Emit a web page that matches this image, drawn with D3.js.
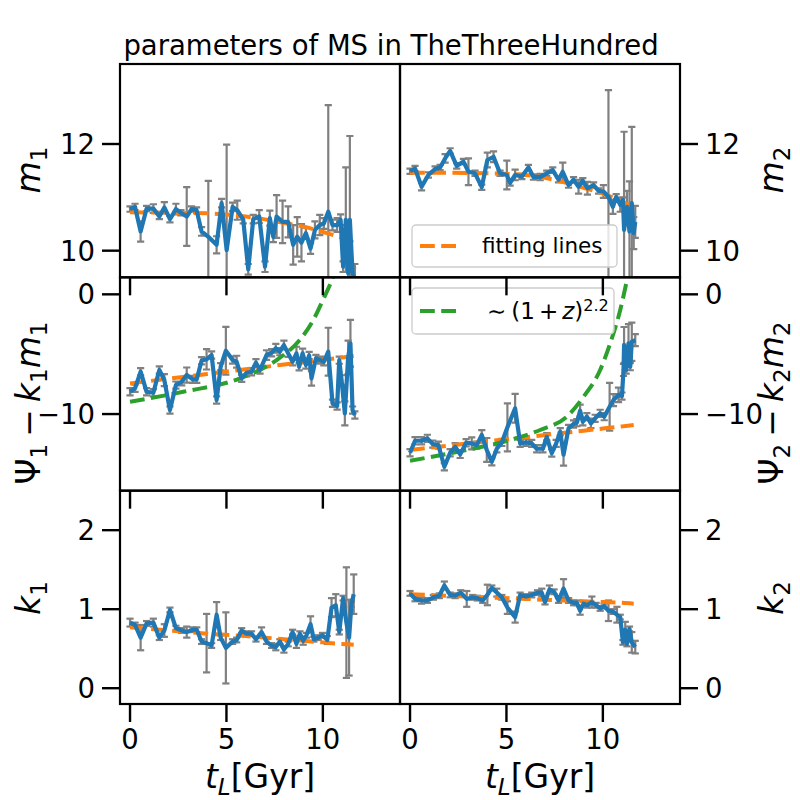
<!DOCTYPE html>
<html>
<head>
<meta charset="utf-8">
<script src="https://cdn.jsdelivr.net/npm/d3@7"></script>
<style>
  body { margin: 0; background: #fff; }
  text { font-family: "DejaVu Sans", sans-serif; fill: #000; }
</style>
</head>
<body>
<svg id="chart" width="800" height="800"></svg>
<script>
// ---- data ----
const xTicks = [0, 5, 10];

const tM1 = [0, 0.26, 0.55, 0.86, 1.21, 1.52, 1.78, 2.07, 2.38, 2.64, 2.94, 3.19, 3.45, 3.71, 4.06, 4.49, 4.75, 5.01, 5.32, 5.56, 5.87, 6.13, 6.39, 6.70, 7.0, 7.25, 7.43, 7.6, 7.91, 8.2, 8.46, 8.67, 8.89, 9.12, 9.36, 9.59, 9.84, 10.05, 10.28, 10.5, 10.74, 10.92, 11.05, 11.19, 11.31, 11.4, 11.54, 11.66];
const m1 = [10.78, 10.82, 10.36, 10.79, 10.79, 10.64, 10.81, 10.59, 10.78, 10.71, 10.64, 10.78, 10.76, 10.36, 10.26, 10.11, 10.89, 10.01, 10.82, 10.76, 10.58, 9.65, 10.59, 10.64, 9.70, 10.61, 10.26, 10.64, 10.54, 10.54, 10.11, 10.26, 10.15, 10.33, 10.04, 10.39, 10.48, 10.51, 10.73, 10.48, 10.48, 10.58, 9.70, 10.58, 9.58, 10.58, 9.58, 9.45];
const m1Err = [0.05, 0.06, 0.19, 0.05, 0.08, 0.05, 0.1, 0.06, 0.1, 0.05, 0.55, 0.05, 0.05, 0.08, 1.05, 0.16, 0.08, 1.98, 0.08, 0.18, 0.07, 0.1, 0.08, 0.12, 0.1, 0.14, 0.1, 0.4, 0.4, 0.29, 0.37, 0.37, 0.35, 0.1, 0.1, 0.16, 0.19, 0.1, 2.0, 0.1, 0.13, 0.1, 0.1, 0.98, 0.3, 1.57, 0.1, 0.3];

const tM2 = [0, 0.26, 0.6, 0.95, 1.3, 1.56, 1.82, 2.08, 2.42, 2.77, 3.03, 3.37, 3.72, 4.01, 4.33, 4.67, 5.02, 5.19, 5.45, 5.8, 6.14, 6.4, 6.75, 7.09, 7.4, 7.7, 7.92, 8.22, 8.48, 8.74, 8.96, 9.2, 9.52, 9.78, 10.03, 10.29, 10.52, 10.69, 10.9, 11.04, 11.1, 11.25, 11.38, 11.5, 11.6, 11.68];
const m2 = [11.49, 11.54, 11.2, 11.42, 11.53, 11.56, 11.73, 11.87, 11.59, 11.67, 11.48, 11.45, 11.19, 11.70, 11.76, 11.45, 11.42, 11.27, 11.42, 11.39, 11.56, 11.38, 11.38, 11.45, 11.51, 11.33, 11.48, 11.23, 11.33, 11.2, 11.31, 11.17, 11.23, 11.12, 11.11, 11.01, 10.82, 11.01, 10.86, 10.95, 10.39, 10.82, 10.36, 10.89, 10.33, 10.54];
const m2Err = [0.05, 0.05, 0.07, 0.05, 0.05, 0.05, 0.08, 0.05, 0.05, 0.05, 0.25, 0.05, 0.05, 0.14, 0.1, 0.05, 0.27, 0.05, 0.1, 0.05, 0.05, 0.05, 0.06, 0.05, 0.05, 0.05, 0.17, 0.05, 0.05, 0.13, 0.05, 0.12, 0.05, 0.05, 0.12, 2.0, 0.13, 0.05, 0.13, 0.05, 1.84, 0.3, 0.94, 1.43, 0.3, 0.3];

const tP1 = [0, 0.26, 0.55, 0.86, 1.21, 1.52, 1.78, 2.07, 2.38, 2.68, 2.94, 3.25, 3.46, 3.71, 3.97, 4.23, 4.49, 4.7, 4.97, 5.32, 5.53, 5.79, 6.04, 6.3, 6.53, 6.74, 7.08, 7.34, 7.56, 7.77, 7.98, 8.2, 8.43, 8.63, 8.77, 8.95, 9.12, 9.29, 9.41, 9.64, 9.88, 10.05, 10.28, 10.5, 10.74, 10.85, 10.97, 11.14, 11.31, 11.43, 11.54, 11.66];
const psi1 = [-8.14, -7.85, -6.46, -8.14, -8.22, -6.32, -7.16, -9.67, -7.58, -7.3, -6.74, -7.1, -7.1, -5.55, -5.43, -5.07, -8.83, -6.05, -4.71, -5.49, -5.63, -7.02, -6.55, -6.47, -5.71, -6.32, -5.07, -4.88, -4.51, -4.79, -4.24, -4.93, -5.63, -4.93, -6.05, -4.93, -5.9, -5.1, -7.02, -5.35, -5.5, -5.63, -4.79, -9.1, -9.33, -5.5, -7.16, -9.94, -5.26, -4.09, -9.67, -10.08];
const psi1Err = [0.3, 0.3, 0.3, 0.3, 0.3, 0.3, 0.5, 0.3, 0.3, 0.3, 0.63, 0.3, 0.3, 0.3, 0.85, 0.3, 0.3, 0.3, 2.0, 0.3, 0.5, 0.3, 0.3, 0.3, 0.3, 0.3, 0.4, 0.3, 0.37, 0.3, 0.37, 0.3, 0.3, 0.55, 0.3, 0.4, 0.3, 0.3, 0.6, 0.3, 0.3, 0.3, 2.0, 0.3, 0.3, 0.3, 0.4, 1.0, 1.4, 1.95, 0.3, 0.3];

const tP2 = [0, 0.26, 0.6, 0.9, 1.18, 1.47, 1.78, 2.08, 2.34, 2.6, 2.91, 3.2, 3.46, 3.72, 3.98, 4.24, 4.5, 4.76, 5.05, 5.45, 5.71, 6.02, 6.31, 6.57, 6.89, 7.09, 7.35, 7.58, 7.79, 7.96, 8.22, 8.48, 8.65, 8.82, 8.96, 9.17, 9.38, 9.6, 9.86, 10.07, 10.35, 10.55, 10.81, 10.99, 11.07, 11.1, 11.21, 11.33, 11.42, 11.5, 11.68];
const psi2 = [-13.23, -12.23, -12.23, -12.03, -12.51, -12.6, -14.4, -13.23, -12.73, -13.37, -12.4, -12.45, -12.6, -11.75, -13.0, -13.98, -12.9, -12.37, -11.11, -9.52, -12.45, -12.37, -12.45, -12.9, -12.9, -11.9, -13.26, -12.45, -11.48, -13.4, -11.2, -10.83, -10.72, -9.72, -10.64, -10.22, -10.78, -10.36, -9.94, -10.22, -9.39, -8.83, -8.4, -8.5, -6.32, -4.23, -6.32, -4.09, -6.04, -3.96, -3.82];
const psi2Err = [0.3, 0.3, 0.3, 0.3, 0.3, 0.3, 0.3, 0.3, 0.3, 0.3, 0.3, 0.5, 0.3, 0.4, 1.0, 0.3, 0.3, 0.3, 2.0, 1.2, 0.3, 0.3, 0.3, 0.3, 0.3, 0.3, 0.3, 0.3, 0.3, 0.9, 0.3, 0.3, 0.3, 0.5, 0.3, 0.3, 0.4, 0.3, 0.3, 0.3, 2.0, 0.5, 0.6, 0.3, 0.5, 1.5, 0.3, 1.6, 0.3, 1.6, 0.5];

const tK1 = [0, 0.26, 0.55, 0.86, 1.21, 1.52, 1.78, 2.07, 2.38, 2.68, 2.94, 3.25, 3.46, 3.71, 3.97, 4.23, 4.49, 4.7, 4.97, 5.32, 5.53, 5.79, 6.04, 6.3, 6.53, 6.82, 7.08, 7.34, 7.56, 7.77, 7.98, 8.2, 8.43, 8.63, 8.81, 8.98, 9.15, 9.36, 9.53, 9.76, 9.98, 10.23, 10.45, 10.67, 10.85, 11.05, 11.22, 11.36, 11.48, 11.6];
const k1 = [0.83, 0.80, 0.64, 0.82, 0.83, 0.64, 0.73, 0.99, 0.76, 0.73, 0.71, 0.74, 0.74, 0.59, 0.57, 0.54, 0.93, 0.64, 0.51, 0.59, 0.61, 0.73, 0.69, 0.69, 0.62, 0.71, 0.59, 0.54, 0.52, 0.59, 0.49, 0.56, 0.71, 0.56, 0.69, 0.6, 0.67, 0.81, 0.62, 0.64, 0.67, 0.61, 1.02, 1.05, 0.71, 1.14, 0.83, 0.64, 1.06, 1.19];
const k1Err = [0.05, 0.03, 0.16, 0.03, 0.05, 0.03, 0.08, 0.03, 0.03, 0.03, 0.07, 0.03, 0.03, 0.03, 0.37, 0.03, 0.16, 0.03, 0.45, 0.03, 0.03, 0.03, 0.03, 0.03, 0.03, 0.06, 0.03, 0.03, 0.04, 0.03, 0.04, 0.03, 0.03, 0.05, 0.03, 0.05, 0.03, 0.1, 0.03, 0.03, 0.03, 0.05, 0.12, 0.14, 0.03, 0.03, 0.7, 0.48, 0.03, 0.25];

const tK2 = [0, 0.26, 0.6, 0.9, 1.21, 1.52, 1.78, 2.08, 2.34, 2.63, 2.94, 3.25, 3.49, 3.77, 4.01, 4.24, 4.5, 4.76, 5.05, 5.45, 5.71, 6.02, 6.31, 6.61, 6.83, 7.0, 7.23, 7.47, 7.7, 7.96, 8.22, 8.48, 8.65, 8.82, 9.0, 9.2, 9.43, 9.65, 9.86, 10.07, 10.29, 10.52, 10.73, 10.9, 11.04, 11.16, 11.25, 11.38, 11.5, 11.68];
const k2 = [1.2, 1.13, 1.11, 1.11, 1.15, 1.17, 1.30, 1.18, 1.17, 1.21, 1.13, 1.15, 1.14, 1.11, 1.18, 1.27, 1.21, 1.15, 1.02, 0.90, 1.18, 1.16, 1.18, 1.21, 1.21, 1.09, 1.25, 1.22, 1.11, 1.26, 1.11, 1.08, 1.08, 0.98, 1.07, 1.05, 1.09, 1.05, 1.01, 1.04, 0.98, 0.97, 0.93, 0.90, 0.58, 0.74, 0.56, 0.75, 0.58, 0.52];
const k2Err = [0.03, 0.03, 0.04, 0.03, 0.03, 0.03, 0.05, 0.03, 0.03, 0.03, 0.1, 0.03, 0.03, 0.03, 0.13, 0.03, 0.05, 0.03, 0.08, 0.07, 0.03, 0.03, 0.03, 0.03, 0.05, 0.03, 0.05, 0.03, 0.03, 0.12, 0.03, 0.03, 0.03, 0.05, 0.03, 0.03, 0.07, 0.03, 0.03, 0.03, 0.13, 0.03, 0.1, 0.03, 0.03, 0.1, 0.03, 0.03, 0.13, 0.08];

// orange fitting lines
const fitT = [0, 2, 4, 6, 8, 9, 10, 11, 11.6];
const m1Fit = [10.72, 10.71, 10.70, 10.64, 10.52, 10.45, 10.35, 10.24, 10.15];
const m2Fit = [11.46, 11.46, 11.45, 11.42, 11.28, 11.18, 11.07, 10.92, 10.82];
const psi1Fit = [-7.44, -7.05, -6.65, -6.26, -5.86, -5.67, -5.47, -5.27, -5.15];
const psi2Fit = [-13.0, -12.64, -12.28, -11.93, -11.57, -11.39, -11.21, -11.03, -10.92];
const k1Fit = [0.77, 0.73, 0.69, 0.66, 0.62, 0.60, 0.58, 0.56, 0.55];
const k2Fit = [1.19, 1.17, 1.15, 1.13, 1.11, 1.10, 1.09, 1.08, 1.07];

// green ~(1+z)^2.2 curves
const powT1 = [0, 2.76, 5.7, 7.6, 8.8, 9.5, 10.0, 10.5, 11.0];
const psi1Pow = [-8.97, -8.14, -7.02, -5.49, -3.82, -2.15, -0.48, 1.34, 4.0];
const powT2 = [0, 2.94, 5.19, 6.75, 8.13, 9.0, 9.86, 10.38, 10.9, 11.25, 11.6];
const psi2Pow = [-13.9, -13.0, -12.17, -11.33, -10.22, -8.55, -6.32, -4.09, -1.31, 1.2, 4.0];

// ---- layout ----
const svg = d3.select('#chart');
const marginL = 120, colW = 280, marginT = 64, rowH = 640 / 3;
const tickLen = 18;
const blue = '#1f77b4', orange = '#ff7f0e', green = '#2ca02c';
const dash = '14.8,6.4';

const zip = (a, b) => a.map((d, i) => [d, b[i]]);

const panels = [
    {row: 0, col: 0, t: tM1, v: m1, e: m1Err, fit: m1Fit, dom: [9.5, 13.5], ticks: [10, 12]},
    {row: 0, col: 1, t: tM2, v: m2, e: m2Err, fit: m2Fit, dom: [9.5, 13.5], ticks: [10, 12]},
    {row: 1, col: 0, t: tP1, v: psi1, e: psi1Err, fit: psi1Fit, pow: zip(powT1, psi1Pow), dom: [-16.4, 1.42], ticks: [-10, 0]},
    {row: 1, col: 1, t: tP2, v: psi2, e: psi2Err, fit: psi2Fit, pow: zip(powT2, psi2Pow), dom: [-16.4, 1.42], ticks: [-10, 0]},
    {row: 2, col: 0, t: tK1, v: k1, e: k1Err, fit: k1Fit, dom: [-0.2, 2.5], ticks: [0, 1, 2]},
    {row: 2, col: 1, t: tK2, v: k2, e: k2Err, fit: k2Fit, dom: [-0.2, 2.5], ticks: [0, 1, 2]},
];

// writes simple mathtext (italic + sub/superscripts) into a text node
function mathText(sel, parts, size) {
    let shift = 0;
    parts.forEach(p => {
        const target = p.sub ? size * 0.22 : (p.sup ? -size * 0.36 : 0);
        const ts = sel.append('tspan').text(p.t)
            .attr('dy', target - shift)
            .style('font-size', (p.sub || p.sup ? size * 0.7 : size) + 'px');
        if (p.dx) ts.attr('dx', p.dx);
        if (p.it) ts.style('font-style', 'italic');
        shift = target;
    });
}

const defs = svg.append('defs');

panels.forEach((p, pi) => {
    const x0 = marginL + p.col * colW, y0 = marginT + p.row * rowH;
    p.x = d3.scaleLinear().domain([-0.52, 14.0]).range([x0, x0 + colW]);
    p.y = d3.scaleLinear().domain(p.dom).range([y0 + rowH, y0]);
    p.x0 = x0; p.y0 = y0;

    defs.append('clipPath').attr('id', 'clip' + pi)
        .append('rect').attr('x', x0).attr('y', y0).attr('width', colW).attr('height', rowH);

    const g = svg.append('g').attr('clip-path', `url(#clip${pi})`);

    // error bars
    const eb = g.append('g').attr('stroke', '#808080').attr('stroke-width', 2.2);
    p.t.forEach((t, i) => {
        const cx = p.x(t), lo = p.y(p.v[i] - p.e[i]), hi = p.y(p.v[i] + p.e[i]);
        eb.append('line').attr('x1', cx).attr('x2', cx).attr('y1', lo).attr('y2', hi);
        eb.append('line').attr('x1', cx - 3.6).attr('x2', cx + 3.6).attr('y1', lo).attr('y2', lo);
        eb.append('line').attr('x1', cx - 3.6).attr('x2', cx + 3.6).attr('y1', hi).attr('y2', hi);
    });

    // fitting line
    g.append('path').datum(zip(fitT, p.fit))
        .attr('d', d3.line().x(d => p.x(d[0])).y(d => p.y(d[1])).curve(d3.curveMonotoneX))
        .attr('fill', 'none').attr('stroke', orange).attr('stroke-width', 4)
        .attr('stroke-dasharray', dash);

    if (p.pow) {
        g.append('path').datum(p.pow)
            .attr('d', d3.line().x(d => p.x(d[0])).y(d => p.y(d[1])).curve(d3.curveMonotoneX))
            .attr('fill', 'none').attr('stroke', green).attr('stroke-width', 4)
            .attr('stroke-dasharray', dash);
    }

    // data line
    g.append('path').datum(zip(p.t, p.v))
        .attr('d', d3.line().x(d => p.x(d[0])).y(d => p.y(d[1])))
        .attr('fill', 'none').attr('stroke', blue).attr('stroke-width', 4.2)
        .attr('stroke-linejoin', 'round');
});

// legends
function legend(x, y, w, h, color, build) {
    const g = svg.append('g');
    g.append('rect').attr('x', x).attr('y', y).attr('width', w).attr('height', h)
        .attr('rx', 4).attr('fill', 'white').attr('fill-opacity', 0.8)
        .attr('stroke', '#cccccc').attr('stroke-width', 1.3);
    const ly = y + h / 2;
    g.append('line').attr('x1', x + 8).attr('x2', x + 46).attr('y1', ly).attr('y2', ly)
        .attr('stroke', color).attr('stroke-width', 4).attr('stroke-dasharray', dash);
    build(g, ly);
}
legend(412, 225, 205, 42, orange, (g, ly) => {
    g.append('text').attr('x', 482).attr('y', ly + 6.5).style('font-size', '21.5px').text('fitting lines');
});
legend(412, 288, 202, 46, green, (g, ly) => {
    const t = g.append('text').attr('x', 487).attr('y', ly + 8);
    mathText(t, [{t: '\u223C'}, {t: '(1', dx: 5}, {t: '+', dx: 4}, {t: 'z', it: 1, dx: 4}, {t: ')'}, {t: '2.2', sup: 1}], 23);
});

// spines and ticks (drawn last so ticks overlap neighbouring panels)
const ax = svg.append('g');
const fmt = d3.format('d');
panels.forEach(p => {
    ax.append('rect').attr('x', p.x0).attr('y', p.y0).attr('width', colW).attr('height', rowH)
        .attr('fill', 'none').attr('stroke', 'black').attr('stroke-width', 2.2);
    const yb = p.y0 + rowH;
    xTicks.forEach(v => {
        ax.append('line').attr('x1', p.x(v)).attr('x2', p.x(v)).attr('y1', yb).attr('y2', yb + tickLen)
            .attr('stroke', 'black').attr('stroke-width', 2.4);
        if (p.row === 2) {
            ax.append('text').attr('x', p.x(v)).attr('y', 749).attr('text-anchor', 'middle')
                .style('font-size', '27.5px').text(v);
        }
    });
    p.ticks.forEach(v => {
        const yy = p.y(v);
        if (p.col === 0) {
            ax.append('line').attr('x1', p.x0 - tickLen).attr('x2', p.x0).attr('y1', yy).attr('y2', yy)
                .attr('stroke', 'black').attr('stroke-width', 2.4);
            ax.append('text').attr('x', p.x0 - tickLen - 7).attr('y', yy + 10).attr('text-anchor', 'end')
                .style('font-size', '27.5px').text(fmt(v));
        } else {
            const xr = p.x0 + colW;
            ax.append('line').attr('x1', xr).attr('x2', xr + tickLen).attr('y1', yy).attr('y2', yy)
                .attr('stroke', 'black').attr('stroke-width', 2.4);
            ax.append('text').attr('x', xr + tickLen + 7).attr('y', yy + 10).attr('text-anchor', 'start')
                .style('font-size', '27.5px').text(fmt(v));
        }
    });
});

// title
svg.append('text').attr('x', 391).attr('y', 55).attr('text-anchor', 'middle')
    .style('font-size', '27.5px').text('parameters of MS in TheThreeHundred');

// axis labels
const LS = 33;
const yLabels = [
    {x: 40, y: 170, parts: [{t: 'm', it: 1}, {t: '1', sub: 1}]},
    {x: 40, y: 403, parts: [{t: '\u03A8'}, {t: '1', sub: 1}, {t: '\u2212', dx: 7}, {t: 'k', it: 1, dx: 7}, {t: '1', sub: 1}, {t: 'm', it: 1}, {t: '1', sub: 1}]},
    {x: 40, y: 598, parts: [{t: 'k', it: 1}, {t: '1', sub: 1}]},
    {x: 783, y: 170, parts: [{t: 'm', it: 1}, {t: '2', sub: 1}]},
    {x: 783, y: 403, parts: [{t: '\u03A8'}, {t: '2', sub: 1}, {t: '\u2212', dx: 7}, {t: 'k', it: 1, dx: 7}, {t: '2', sub: 1}, {t: 'm', it: 1}, {t: '2', sub: 1}]},
    {x: 783, y: 598, parts: [{t: 'k', it: 1}, {t: '2', sub: 1}]},
];
yLabels.forEach(l => {
    const t = svg.append('text').attr('text-anchor', 'middle')
        .attr('transform', `translate(${l.x},${l.y}) rotate(-90)`);
    mathText(t, l.parts, LS);
});
[260, 540].forEach(cx => {
    const t = svg.append('text').attr('x', cx).attr('y', 788).attr('text-anchor', 'middle');
    mathText(t, [{t: 't', it: 1}, {t: 'L', sub: 1, it: 1}, {t: '[Gyr]'}], LS);
});
</script>
</body>
</html>
